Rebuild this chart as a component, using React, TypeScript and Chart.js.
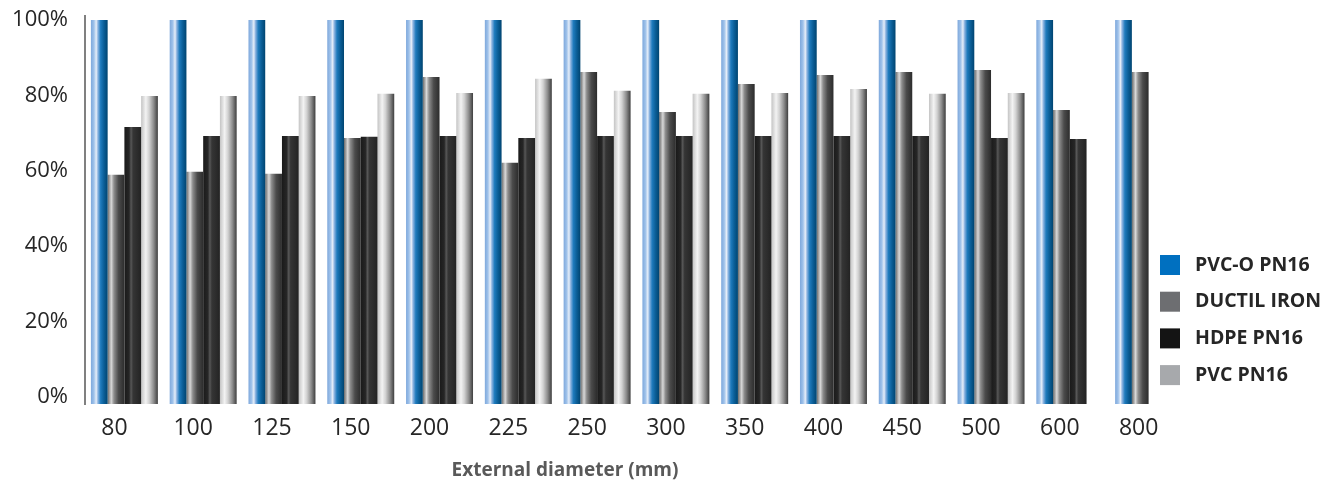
import React, { useEffect, useRef } from 'react';
import { Chart, registerables } from 'chart.js';

Chart.register(...registerables);

const categories = ['80', '100', '125', '150', '200', '225', '250', '300', '350', '400', '450', '500', '600', '800'];
const seriesNames = ['PVC-O PN16', 'DUCTIL IRON', 'HDPE PN16', 'PVC PN16'];
const pvcoValues = [100, 100, 100, 100, 100, 100, 100, 100, 100, 100, 100, 100, 100, 100];
const ductileValues = [58.9, 59.7, 59.2, 68.7, 84.9, 62.1, 86.2, 75.6, 83.0, 85.4, 86.2, 86.7, 76.1, 86.2];
const hdpeValues = [71.6, 69.2, 69.2, 69.0, 69.2, 68.7, 69.2, 69.2, 69.2, 69.2, 69.2, 68.7, 68.4, null];
const pvcValues = [79.8, 79.8, 79.8, 80.4, 80.6, 84.4, 81.2, 80.4, 80.6, 81.7, 80.4, 80.6, null, null];
const yTicks = [0, 20, 40, 60, 80, 100];
const axisTitle = 'External diameter (mm)';

const legendColors = ['#0070c0', '#6d6e71', '#141414', '#a7a9ac'];
const gradientStops: [number, string][][] = [
  [[0, '#7ea8dc'], [0.18, '#9fc2ea'], [0.32, '#e6eef9'], [0.42, '#8cb3e0'], [0.58, '#1f7bbd'], [0.78, '#0b5e97'], [1, '#004470']],
  [[0, '#6a6a6a'], [0.22, '#d8d8d8'], [0.38, '#8c8c8c'], [0.65, '#4b4b4b'], [1, '#2c2c2c']],
  [[0, '#1a1a1a'], [0.28, '#262626'], [0.4, '#575757'], [0.52, '#353535'], [0.8, '#2b2b2b'], [1, '#232323']],
  [[0, '#c4c4c4'], [0.28, '#f3f3f3'], [0.48, '#d2d2d2'], [0.75, '#8c8c8c'], [1, '#3e3e3e']],
];

const FONT = '"Open Sans", "DejaVu Sans", sans-serif';

const gradientPlugin = {
  id: 'barGradients',
  beforeDatasetsDraw(chart: any) {
    const ctx = chart.ctx;
    chart.data.datasets.forEach((_ds: any, di: number) => {
      const meta = chart.getDatasetMeta(di);
      meta.data.forEach((el: any) => {
        const { x, width } = el.getProps(['x', 'width'], true);
        if (x == null || !isFinite(x) || !width) return;
        const g = ctx.createLinearGradient(x - width / 2, 0, x + width / 2, 0);
        gradientStops[di].forEach(([o, c]) => g.addColorStop(o, c));
        if (Object.isFrozen(el.options)) el.options = { ...el.options };
        el.options.backgroundColor = g;
      });
    });
  },
};

const legendPlugin = {
  id: 'sideLegend',
  afterDraw(chart: any) {
    const ctx = chart.ctx;
    ctx.save();
    chart.data.datasets.forEach((ds: any, i: number) => {
      const cy = 265 + i * 36.7;
      ctx.fillStyle = legendColors[i];
      ctx.fillRect(1160, cy - 10, 20, 20);
      ctx.fillStyle = '#262626';
      ctx.font = `bold 19.5px ${FONT}`;
      ctx.textAlign = 'left';
      ctx.textBaseline = 'middle';
      ctx.fillText(ds.label, 1195, cy);
    });
    ctx.fillStyle = '#595959';
    ctx.font = `bold 19px ${FONT}`;
    ctx.textAlign = 'center';
    ctx.textBaseline = 'middle';
    ctx.fillText(axisTitle, 565, 471);
    ctx.restore();
  },
};

export default function App() {
  const ref = useRef<HTMLCanvasElement | null>(null);

  useEffect(() => {
    if (!ref.current) return;
    const seriesValues = [pvcoValues, ductileValues, hdpeValues, pvcValues];
    const chart = new Chart(ref.current, {
      type: 'bar',
      data: {
        labels: categories,
        datasets: seriesNames.map((name, i) => ({
          label: name,
          data: seriesValues[i],
          backgroundColor: (c: any) => legendColors[c.datasetIndex],
          borderWidth: 0,
          categoryPercentage: 0.85,
          barPercentage: 1.0,
          base: -1.9,
        })),
      },
      options: {
        responsive: false,
        animation: false,
        devicePixelRatio: 1,
        layout: { padding: { top: 0, right: 150, bottom: 0, left: 0 } },
        plugins: {
          legend: { display: false },
          tooltip: { enabled: false },
        },
        scales: {
          x: {
            grid: { display: false, drawTicks: true, tickLength: 8 },
            border: { display: false },
            ticks: {
              font: { family: FONT, size: 23 },
              color: '#262626',
              padding: 3,
              labelOffset: -10,
              maxRotation: 0,
              autoSkip: false,
            },
            afterFit: (scale: any) => {
              scale.height = 81;
            },
          },
          y: {
            min: -1.9,
            max: 101,
            grid: { display: false, drawTicks: true, tickLength: 14 },
            border: { display: true, color: '#808080', width: 2 },
            ticks: {
              font: { family: FONT, size: 22 },
              color: '#262626',
              padding: 3,
              callback: (v: any) => `${v}%`,
            },
            afterBuildTicks: (scale: any) => {
              scale.ticks = yTicks.map((v) => ({ value: v }));
            },
            afterFit: (scale: any) => {
              scale.width = 85;
            },
          },
        },
      },
      plugins: [gradientPlugin, legendPlugin],
    } as any);
    return () => chart.destroy();
  }, []);

  return (
    <div style={{ position: 'fixed', left: 0, top: 0, width: 1338, height: 485, background: '#ffffff' }}>
      <canvas ref={ref} width={1338} height={485} style={{ width: 1338, height: 485, display: 'block' }} />
    </div>
  );
}
